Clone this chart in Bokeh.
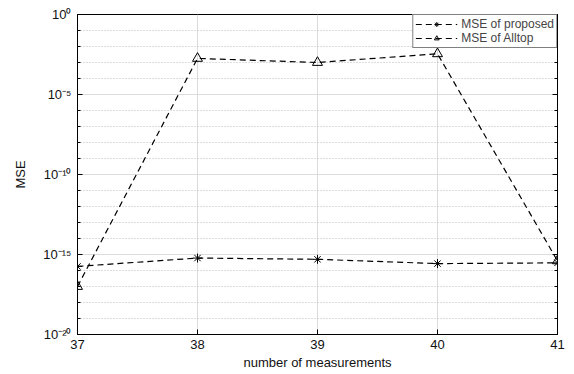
from bokeh.plotting import figure
from bokeh.models import FixedTicker, CustomJSTickFormatter, LogAxis, Legend, LegendItem, Range1d
from bokeh.embed import file_html
from bokeh.resources import INLINE

measurements = [37, 38, 39, 40, 41]
mse_proposed = [1.8e-16, 6.0e-16, 5.0e-16, 2.7e-16, 3.0e-16]
mse_alltop = [1.0e-17, 1.8e-3, 1.0e-3, 3.5e-3, 4.0e-16]
y_major = [1e-20, 1e-15, 1e-10, 1e-5, 1e0]
y_minor = [10.0 ** (-k) for k in range(0, 21)]
x_ticks = [37, 38, 39, 40, 41]

FONT = "Liberation Sans"

p = figure(width=574, height=374, y_axis_type="log",
           x_range=Range1d(37, 41), y_range=Range1d(1e-20, 1e0),
           output_backend="svg", toolbar_location=None,
           min_border_left=77, min_border_right=17, min_border_top=14, min_border_bottom=40)
p.background_fill_color = "white"
p.border_fill_color = "white"
p.outline_line_color = "black"
p.outline_line_width = 1

ticker_y = FixedTicker(ticks=y_major, minor_ticks=y_minor)
fmt = CustomJSTickFormatter(code="""
const sup = {'0':'\u2070','1':'\u00b9','2':'\u00b2','3':'\u00b3','4':'\u2074','5':'\u2075','6':'\u2076','7':'\u2077','8':'\u2078','9':'\u2079','-':'\u207b'};
const e = Math.round(Math.log10(tick)).toString();
return '10' + e.split('').map(c => sup[c]).join('');
""")
p.yaxis.ticker = ticker_y
p.yaxis.formatter = fmt
p.xaxis.ticker = FixedTicker(ticks=x_ticks)

for ax in [p.xaxis[0], p.yaxis[0]]:
    ax.major_tick_in = 5
    ax.major_tick_out = 0
    ax.minor_tick_in = 3
    ax.minor_tick_out = 0
    ax.axis_line_color = "black"
    ax.major_label_text_font = FONT
    ax.major_label_text_font_size = "13px"
    ax.major_label_text_color = "#111111"
    ax.axis_label_text_font = FONT
    ax.axis_label_text_font_size = "13px"
    ax.axis_label_text_font_style = "normal"
    ax.axis_label_text_color = "#111111"
p.xaxis.minor_tick_line_color = None
p.xaxis.axis_label = "number of measurements"
p.yaxis.axis_label = "MSE"
p.xaxis.axis_label_standoff = 3
p.yaxis.axis_label_standoff = 12
p.yaxis.major_label_standoff = 6

p.xgrid.ticker = FixedTicker(ticks=x_ticks)
p.xgrid.grid_line_color = "#dcdcdc"
p.ygrid.ticker = ticker_y
p.ygrid.grid_line_color = "#dcdcdc"
p.ygrid.minor_grid_line_color = "#bbbbbb"
p.ygrid.minor_grid_line_dash = "1 2"

right = LogAxis(ticker=FixedTicker(ticks=y_major, minor_ticks=y_minor),
                formatter=CustomJSTickFormatter(code="return '';"),
                major_tick_in=5, major_tick_out=0, minor_tick_in=3, minor_tick_out=0,
                axis_line_color="black", major_label_text_font_size="1px")
p.add_layout(right, "right")

r1 = p.line(measurements, mse_proposed, line_color="black", line_dash="6 4", line_width=1.2)
m1 = p.scatter(measurements, mse_proposed, marker="asterisk", size=9, line_color="black", line_width=1)
r2 = p.line(measurements, mse_alltop, line_color="black", line_dash="6 4", line_width=1.2)
m2 = p.scatter(measurements, mse_alltop, marker="triangle", size=10, line_color="black",
               fill_color=None, line_width=1)

legend = Legend(items=[LegendItem(label="MSE of proposed", renderers=[r1, m1]),
                       LegendItem(label="MSE of Alltop", renderers=[r2, m2])],
                location="top_right", margin=0, padding=2, spacing=0,
                label_text_font=FONT, label_text_font_size="12px",
                glyph_width=42, glyph_height=12, label_height=12, label_standoff=4,
                border_line_color="black", border_line_width=1,
                background_fill_alpha=1.0)
p.add_layout(legend)

open("out.html", "w").write(file_html(p, INLINE))
